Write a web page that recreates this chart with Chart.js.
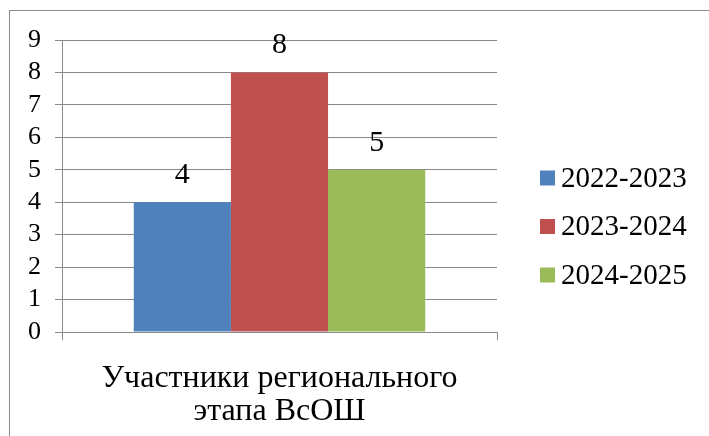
<!DOCTYPE html>
<html>
<head>
<meta charset="utf-8">
<script src="https://cdn.jsdelivr.net/npm/chart.js@4"></script>
<style>
  html, body { margin: 0; padding: 0; background: #fff; overflow: hidden; }
  #wrap { position: relative; width: 709px; height: 436px; }
  #frame { position: absolute; left: 9px; top: 10px; width: 760px; height: 480px; border: 1px solid #8a8a8a; box-sizing: border-box; }
  canvas { position: absolute; left: 0; top: 0; }
</style>
</head>
<body>
<div id="wrap">
  <div id="frame"></div>
  <canvas id="c" width="709" height="436"></canvas>
</div>
<script>
const categories = [["Участники регионального", "этапа ВсОШ"]];
const seriesNames = ["2022-2023", "2023-2024", "2024-2025"];
const seriesValues = [[4], [8], [5]];
const seriesColors = ["#4F81BD", "#C0504D", "#9BBB59"];
const yTicks = [0, 1, 2, 3, 4, 5, 6, 7, 8, 9];

const FONT = "'Liberation Serif', 'Times New Roman', serif";
const GRID = "#888888";

const dataLabels = {
  id: 'dataLabels',
  afterDatasetsDraw(chart) {
    const ctx = chart.ctx;
    ctx.save();
    ctx.font = "30px " + FONT;
    ctx.fillStyle = "#000";
    ctx.textAlign = "center";
    ctx.textBaseline = "alphabetic";
    chart.data.datasets.forEach((ds, i) => {
      const meta = chart.getDatasetMeta(i);
      meta.data.forEach((bar, j) => {
        ctx.fillText(String(ds.data[j]), bar.x, bar.y - 19);
      });
    });
    ctx.restore();
  }
};

const sideLegend = {
  id: 'sideLegend',
  afterDraw(chart) {
    const ctx = chart.ctx;
    ctx.save();
    ctx.font = "29px " + FONT;
    ctx.textBaseline = "middle";
    ctx.textAlign = "left";
    chart.data.datasets.forEach((ds, i) => {
      const cy = 178 + i * 48.5;
      ctx.fillStyle = ds.backgroundColor;
      ctx.fillRect(540, cy - 7.5, 15, 15);
      ctx.fillStyle = "#000";
      ctx.fillText(ds.label, 561, cy + 1);
    });
    ctx.restore();
  }
};

new Chart(document.getElementById('c'), {
  type: 'bar',
  data: {
    labels: categories,
    datasets: seriesNames.map((name, i) => ({
      label: name,
      data: seriesValues[i],
      backgroundColor: seriesColors[i],
      borderWidth: 0,
      categoryPercentage: 0.67,
      barPercentage: 1.0
    }))
  },
  options: {
    responsive: false,
    animation: false,
    devicePixelRatio: 1,
    layout: { padding: { left: 0, right: 212, top: 40, bottom: 0 } },
    plugins: { legend: { display: false }, tooltip: { enabled: false } },
    scales: {
      x: {
        offset: true,
        grid: { display: true, drawOnChartArea: false, drawTicks: true, tickLength: 8, color: GRID, offset: true },
        border: { display: true, color: GRID },
        ticks: { font: { family: FONT, size: 32, lineHeight: 1.03 }, color: "#000", padding: 22, maxRotation: 0, autoSkip: false },
        afterFit(scale) { scale.height = 104; }
      },
      y: {
        min: 0, max: 9,
        afterBuildTicks(scale) { scale.ticks = yTicks.map(v => ({ value: v })); },
        grid: { color: GRID, tickLength: 7, drawTicks: true },
        border: { display: true, color: GRID },
        ticks: { font: { family: FONT, size: 26 }, color: "#000", padding: 14, autoSkip: false, stepSize: 1 },
        afterFit(scale) { scale.width = 62; }
      }
    }
  },
  plugins: [dataLabels, sideLegend]
});
</script>
</body>
</html>
